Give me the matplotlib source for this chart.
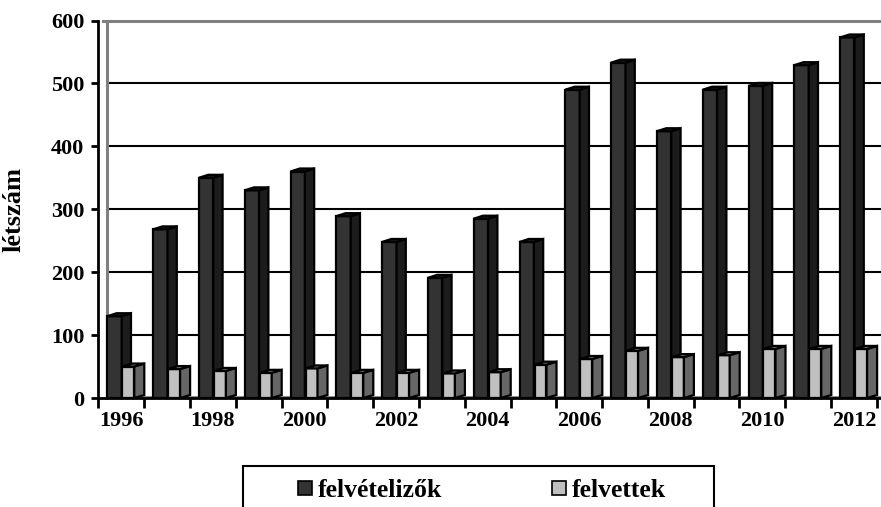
import matplotlib
matplotlib.use("Agg")
import matplotlib.pyplot as plt
from matplotlib.patches import Polygon, Rectangle

years = list(range(1996, 2013))
applicants = [130, 268, 350, 330, 360, 289, 248, 191, 285, 248, 490, 533, 424, 490, 496, 529, 573]
admitted = [50, 46, 43, 40, 47, 40, 40, 39, 41, 53, 62, 75, 65, 68, 78, 78, 78]
series_names = ["felvételizők", "felvettek"]
yticks = [0, 100, 200, 300, 400, 500, 600]
ylabel = "létszám"

W, H = 881, 507
DPI = 100
plt.rcParams['font.family'] = ['Liberation Serif', 'DejaVu Serif']
plt.rcParams['font.weight'] = 'bold'

fig = plt.figure(figsize=(W / DPI, H / DPI), dpi=DPI)
ax_left, ax_right, ax_top, ax_bot = 98.3, 881.0, 20.5, 398.0
ax = fig.add_axes([ax_left / W, 1 - ax_bot / H, (ax_right - ax_left) / W, (ax_bot - ax_top) / H])

cat_px = 45.8
xmax = (ax_right - ax_left) / cat_px
ax.set_xlim(0, xmax)
ax.set_ylim(0, 600)
upx = 600 / (ax_bot - ax_top)  # data units per pixel (y)

def bx(p):
    return p / cat_px

# walls / grid
wall_x = bx(107 - ax_left)
for t in yticks[1:-1]:
    ax.plot([wall_x, xmax], [t, t], color='black', lw=1.5, zorder=1, solid_capstyle='butt')
ax.plot([bx(103 - ax_left), xmax], [600, 600], color='#808080', lw=2.2, zorder=1, clip_on=False)
ax.plot([wall_x, wall_x], [0, 600], color='#808080', lw=2.2, zorder=1, clip_on=False)
ax.plot([wall_x, xmax], [1.5 * upx, 1.5 * upx], color='#808080', lw=2.0, zorder=1, clip_on=False)

dy = 3.0 * upx

def bar3d(x0, w, d, v, cfront, cside, ctop, z):
    lw = 1.6
    front = Polygon([(x0, 0), (x0 + w, 0), (x0 + w, v), (x0, v)], closed=True,
                    facecolor=cfront, edgecolor='black', lw=lw, zorder=z, joinstyle='miter')
    side = Polygon([(x0 + w, 0), (x0 + w + d, dy), (x0 + w + d, v + dy), (x0 + w, v)], closed=True,
                   facecolor=cside, edgecolor='black', lw=lw, zorder=z, joinstyle='miter')
    top = Polygon([(x0, v), (x0 + w, v), (x0 + w + d, v + dy), (x0 + d, v + dy)], closed=True,
                  facecolor=ctop, edgecolor='black', lw=lw, zorder=z, joinstyle='miter')
    for p in (front, side, top):
        p.set_clip_on(False)
        ax.add_patch(p)

for i, (a, b) in enumerate(zip(applicants, admitted)):
    z = 3 + i * 0.01
    bar3d(i + bx(9.0), bx(14.4), bx(9.3), a, '#333333', '#1c1c1c', '#1c1c1c', z)
    bar3d(i + bx(24.0), bx(12.0), bx(10.0), b, '#c0c0c0', '#666666', '#808080', z + 0.005)

# spines
for s in ('top', 'right'):
    ax.spines[s].set_visible(False)
ax.spines['left'].set_linewidth(2.0)
ax.spines['bottom'].set_linewidth(2.0)
ax.spines['bottom'].set_zorder(5)

ax.set_yticks(yticks)
ax.set_yticklabels([str(t) for t in yticks], fontsize=16, fontweight='bold')
ax.tick_params(axis='y', direction='out', length=5, width=2.0, pad=5)

ax.set_xticks(range(len(years) + 1))
ax.set_xticklabels([])
ax.tick_params(axis='x', which='major', direction='out', length=7, width=2.0)
ax.set_xticks([i + 0.5 for i in range(0, len(years), 2)], minor=True)
ax.set_xticklabels([str(years[i]) for i in range(0, len(years), 2)], minor=True,
                   fontsize=16, fontweight='bold')
ax.tick_params(axis='x', which='minor', length=0, pad=9)

fig.text(14 / W, 1 - 210 / H, ylabel, rotation=90, ha='center', va='center',
         fontsize=19, fontweight='bold')

# legend box (manual)
def fx(p):
    return p / W

def fy(p):
    return 1 - p / H

box = Rectangle((fx(243), fy(520)), fx(714) - fx(243), fy(465.5) - fy(520),
                transform=fig.transFigure, facecolor='white', edgecolor='black', lw=1.5, clip_on=False)
fig.patches.append(box)
sq = 14
legend_items = [(298, 318, '#333333', series_names[0]), (552, 572, '#c0c0c0', series_names[1])]
for xs, xt, col, name in legend_items:
    r = Rectangle((fx(xs), fy(488 + sq / 2)), fx(sq), sq / H, transform=fig.transFigure,
                  facecolor=col, edgecolor='black', lw=1.2)
    fig.patches.append(r)
    fig.text(fx(xt), fy(488), name, ha='left', va='center_baseline', fontsize=18.5, fontweight='bold')

fig.savefig('out.png', dpi=DPI)
